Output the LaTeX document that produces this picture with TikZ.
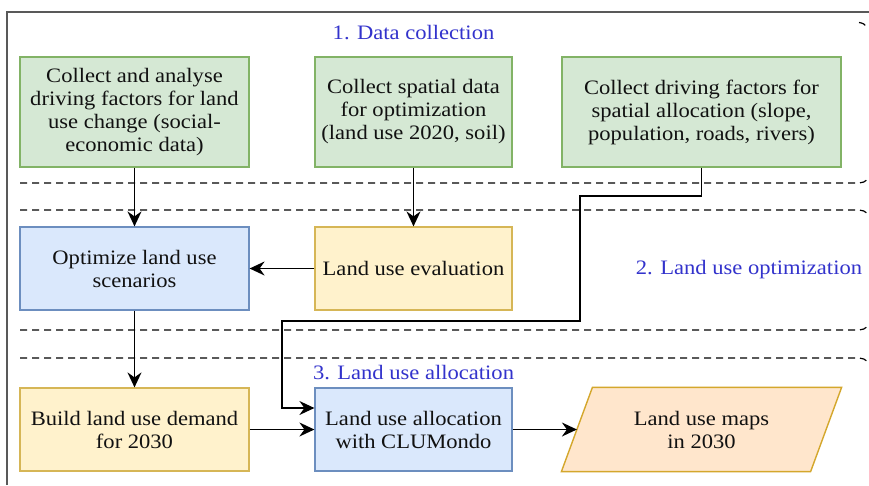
\documentclass[tikz,border=0pt]{standalone}
\usepackage{fontspec}
\setmainfont{Liberation Serif}[FakeStretch=1.1]
\usetikzlibrary{arrows.meta,backgrounds}
\definecolor{gfill}{HTML}{D5E8D4}\definecolor{gdraw}{HTML}{82B366}
\definecolor{bfill}{HTML}{DAE8FC}\definecolor{bdraw}{HTML}{6C8EBF}
\definecolor{yfill}{HTML}{FFF2CC}\definecolor{ydraw}{HTML}{D6B656}
\definecolor{ofill}{HTML}{FFE6CC}\definecolor{odraw}{HTML}{D4A72C}
\definecolor{lbl}{RGB}{51,51,204}
\definecolor{txt}{HTML}{111111}
\begin{document}
\begin{tikzpicture}[x=1pt,y=-1pt,
  box/.style={line width=1.2pt, align=center, inner sep=2pt, text=txt,
    font=\fontsize{20.5}{23}\selectfont},
  gbox/.style={box, draw=gdraw, fill=gfill, minimum height=110pt},
  bbox/.style={box, draw=bdraw, fill=bfill, minimum height=83pt},
  ybox/.style={box, draw=ydraw, fill=yfill, minimum height=83pt},
  wide/.style={minimum width=229pt},
  mid/.style={minimum width=197pt},
  lab/.style={text=lbl, font=\fontsize{20.5}{23}\selectfont, inner sep=0pt},
  region/.style={dashed, dash pattern=on 7pt off 5pt, line width=1.2pt, rounded corners=12pt},
  arr/.style={-{Stealth[length=15pt,width=14pt,inset=5pt]}, line width=1.5pt},
  frame/.style={draw=black!65, line width=1.2pt}
]
\useasboundingbox (0,0) rectangle (869,485);
% outer frame
\draw[frame] (7,485) -- (7,12) -- (869,12);
% dashed regions
\draw[region] (859,22.5) .. controls (863,23) and (865,24.5) .. (867,27);
\draw[region] (20,183) -- (871,183) -- (871,150);
\draw[region] (20,210) -- (871,210) -- (871,260);
\draw[region] (20,330) -- (871,330) -- (871,290);
\draw[region] (20,358) -- (871,358) -- (871,400);
% labels
\node[lab] (l1) at (413.5,33) {1. Data collection};
\node[lab] (l2) at (749,270) {2. Land use optimization};
\node[lab] (l3) at (413.5,373) {3. Land use allocation};
% nodes
\node[gbox, wide] (g1) at (134.5,112) {Collect and analyse\\driving factors for land\\use change (social-\\economic data)};
\node[gbox, mid] (g2) at (413.5,112) {Collect spatial data\\for optimization\\(land use 2020, soil)};
\node[gbox, minimum width=279pt] (g3) at (701.5,112) {Collect driving factors for\\spatial allocation (slope,\\population, roads, rivers)};
\node[bbox, wide] (b1) at (134.5,268.5) {Optimize land use\\scenarios};
\node[ybox, mid] (y1) at (413.5,268.5) {Land use evaluation};
\node[ybox, wide] (y2) at (134.5,429.5) {Build land use demand\\for 2030};
\node[bbox, mid] (b2) at (413.5,429.5) {Land use allocation\\with CLUMondo};
\node[box, minimum width=248pt, minimum height=83pt] (p) at (701.5,429.5) {Land use maps\\in 2030};
\begin{pgfonlayer}{background}
\fill[white] (0,0) rectangle (869,485);
\draw[line width=1.4pt, draw=odraw, fill=ofill]
  ([xshift=15.5pt]p.north west) -- ([xshift=15.5pt]p.north east)
  -- ([xshift=-15.5pt]p.south east) -- ([xshift=-15.5pt]p.south west) -- cycle;
\end{pgfonlayer}
% connectors
\coordinate (k1) at (580,196);
\coordinate (k2) at (282,321);
\draw[arr] (g1) -- (b1);
\draw[arr] (g2) -- (y1);
\draw[arr] (y1) -- (b1);
\draw[arr] (b1) -- (y2);
\draw[arr] (g3.south) |- (k1) |- (k2) |- ([yshift=21.5pt]b2.west);
\draw[arr] (y2.east) -- (b2.west);
\draw[arr] (b2.east) -- (p.west);
\end{tikzpicture}
\end{document}
